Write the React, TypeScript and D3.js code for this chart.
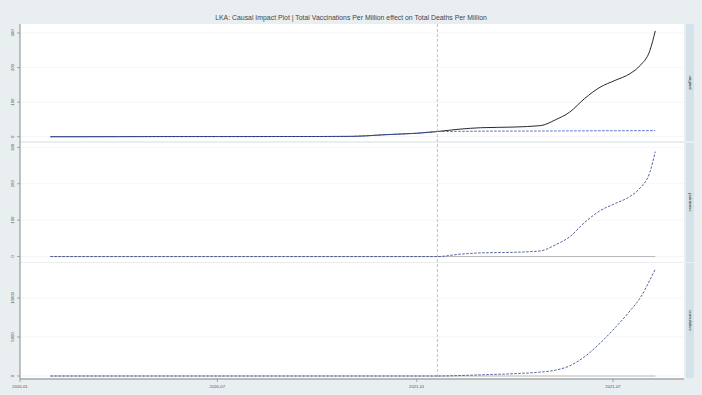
import React from "react";
import * as d3 from "d3";

const TITLE = "LKA: Causal Impact Plot | Total Vaccinations Per Million effect on Total Deaths Per Million";
const PANEL_LABELS = ["original", "pointwise", "cumulative"];
const X_TICKS = ["2020-01", "2020-07", "2021-01", "2021-07"];
const INTERVENTION = "2021-01-20";

const dates = [
  "2020-01-29", "2020-03-01", "2020-04-01", "2020-05-01", "2020-06-01", "2020-07-01",
  "2020-08-01", "2020-09-01", "2020-10-01", "2020-11-01", "2020-11-15", "2020-12-01",
  "2020-12-15", "2021-01-01", "2021-01-20", "2021-02-10", "2021-03-01", "2021-04-01",
  "2021-04-25", "2021-05-09", "2021-05-22", "2021-06-05", "2021-06-19", "2021-07-03",
  "2021-07-17", "2021-07-26", "2021-08-04", "2021-08-09",
];
const original = [
  0, 0, 0.2, 0.4, 0.5, 0.5, 0.5, 0.6, 0.6, 1.0, 2.5, 5.5, 7.5, 10, 15, 22, 26, 28,
  32, 49, 71, 111, 143, 163, 183, 206, 249, 306,
];
const predicted = [
  0, 0, 0.2, 0.4, 0.5, 0.5, 0.5, 0.6, 0.6, 1.0, 2.5, 5.5, 7.5, 10, 15, 15.5, 16, 16.3,
  16.5, 16.7, 16.9, 17, 17.2, 17.3, 17.4, 17.5, 17.6, 17.7,
];
const pointwise = [
  0, 0, 0, 0, 0, 0, 0, 0, 0, 0, 0, 0, 0, 0, 0, 6.5, 10, 11.7, 15.5, 32.3, 54.1, 94,
  125.8, 145.7, 165.6, 188.5, 231.4, 288.3,
];
const cumulative = [
  0, 0, 0, 0, 0, 0, 0, 0, 0, 0, 0, 0, 0, 0, 0, 60, 150, 300, 500, 750, 1300, 2500,
  4200, 6200, 8400, 10000, 12300, 13700,
];
const ticksOrig = [0, 100, 200, 300];
const ticksPoint = [0, 100, 200, 300];
const ticksCum = [0, 5000, 10000];

const W = 702, H = 395;
const BG = "#e9eef1";
const STRIP = "#d6e2ea";
const PRED = "#3d5bc4";

export default function App() {
  const parse = d3.timeParse("%Y-%m-%d");
  const parseM = d3.timeParse("%Y-%m");
  const ds = dates.map((d) => parse(d) as Date);
  const left = 20, right = 684;
  const x0 = parseM("2020-01") as Date;
  const x1 = parseM("2021-07") as Date;
  const ppd = (613 - 20) / ((+x1 - +x0) / 864e5);
  const xEnd = new Date(+x0 + ((right - left) / ppd) * 864e5);
  const x = d3.scaleTime().domain([x0, xEnd]).range([left, right]);
  const xi = x(parse(INTERVENTION) as Date);

  const panels = [
    { top: 24, bottom: 141, domain: [-12.4, 326], ticks: ticksOrig, label: PANEL_LABELS[0] },
    { top: 143, bottom: 262, domain: [-15, 312], ticks: ticksPoint, label: PANEL_LABELS[1] },
    { top: 263, bottom: 378, domain: [-256, 14490], ticks: ticksCum, label: PANEL_LABELS[2] },
  ];

  const mkLine = (y: d3.ScaleLinear<number, number>, vals: number[]) =>
    d3.line<number>().curve(d3.curveMonotoneX).x((_, i) => x(ds[i])).y((v) => y(v))(vals) || "";

  return (
    <svg width={W} height={H} style={{ position: "fixed", left: 0, top: 0, background: BG }}
      fontFamily="Liberation Sans, Arial, sans-serif">
      <rect x={0} y={0} width={W} height={H} fill={BG} />
      <text x={351} y={20} textAnchor="middle" fontSize={6.9} fill="#444">{TITLE}</text>
      {panels.map((p, pi) => {
        const y = d3.scaleLinear().domain(p.domain).range([p.bottom, p.top]);
        const series: { vals: number[]; stroke: string; dash?: string; w: number }[] = [];
        if (pi === 0) {
          series.push({ vals: original, stroke: "#111", w: 0.9 });
          series.push({ vals: predicted, stroke: PRED, dash: "2.5,1.5", w: 0.9 });
        } else if (pi === 1) {
          series.push({ vals: pointwise, stroke: "#3f5090", dash: "2.5,1.5", w: 0.9 });
        } else {
          series.push({ vals: cumulative, stroke: "#3f5090", dash: "2.5,1.5", w: 0.9 });
        }
        return (
          <g key={pi}>
            <rect x={left} y={p.top} width={right - left} height={p.bottom - p.top} fill="#fff" />
            {p.ticks.map((t) => (
              <g key={t}>
                <line x1={left} x2={right} y1={y(t)} y2={y(t)} stroke="#eef0f2" strokeWidth={0.6} />
                <line x1={left - 3} x2={left} y1={y(t)} y2={y(t)} stroke="#777" strokeWidth={0.6} />
                <text transform={`translate(${left - 6},${y(t)}) rotate(-90)`} textAnchor="middle"
                  fontSize={4.2} fill="#555">{t}</text>
              </g>
            ))}
            {pi > 0 && (
              <line x1={x(ds[0])} x2={x(ds[ds.length - 1])} y1={y(0)} y2={y(0)} stroke="#aaa" strokeWidth={0.8} />
            )}
            {series.map((s, si) => (
              <path key={si} d={mkLine(y, s.vals)} fill="none" stroke={s.stroke}
                strokeWidth={s.w} strokeDasharray={s.dash} />
            ))}
            <rect x={686} y={p.top} width={8} height={p.bottom - p.top} fill={STRIP} />
            <text transform={`translate(${690},${(p.top + p.bottom) / 2}) rotate(90)`} textAnchor="middle"
              dominantBaseline="central" fontSize={4.4} fill="#333">{p.label}</text>
          </g>
        );
      })}
      <line x1={xi} x2={xi} y1={24} y2={378} stroke="#999" strokeWidth={0.6} strokeDasharray="3,2" />
      <line x1={left} x2={left} y1={24} y2={379} stroke="#888" strokeWidth={1} />
      <line x1={left} x2={right} y1={379} y2={379} stroke="#888" strokeWidth={1} />
      {X_TICKS.map((t) => {
        const xx = x(parseM(t) as Date);
        return (
          <g key={t}>
            <line x1={xx} x2={xx} y1={379} y2={382} stroke="#777" strokeWidth={0.6} />
            <text x={xx} y={388} textAnchor="middle" fontSize={4.2} fill="#555">{t}</text>
          </g>
        );
      })}
    </svg>
  );
}
